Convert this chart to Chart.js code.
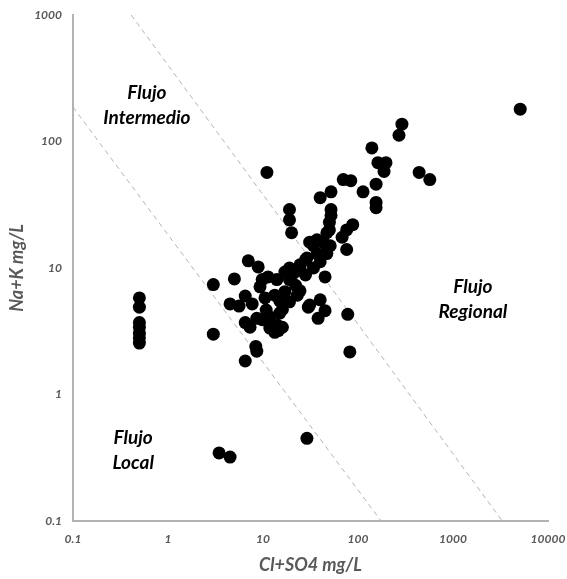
<!DOCTYPE html>
<html>
<head>
<meta charset="utf-8">
<script src="https://cdn.jsdelivr.net/npm/chart.js@4"></script>
<style>
  html, body { margin: 0; padding: 0; background: #fff; }
  #wrap { width: 567px; height: 579px; }
</style>
</head>
<body>
<div id="wrap"><canvas id="chart"></canvas></div>
<script>
// Cl+SO4 (mg/L) and Na+K (mg/L)
var clSo4 = [0.5, 0.5, 0.5, 0.5, 0.5, 0.5, 0.5,
  3.0, 3.0, 6.5, 8.4, 8.6, 3.45, 4.5, 29, 82, 78,
  5100, 290, 270, 140, 162, 197, 188, 440, 570, 70, 84, 155, 113, 155, 155,
  52, 40, 52, 52, 19, 19, 20, 50, 50, 88, 76, 68, 76, 47, 43, 34, 51, 47, 29, 37,
  24.5, 45, 18, 7, 8.9, 5, 9.8, 11.3, 9.3, 14, 17, 21, 24.5, 31,
  4.5, 5.6, 6.5, 7.7, 10.5, 10.8, 16, 19, 23, 31, 38,
  6.5, 7.3, 8.6, 9.8, 11.8, 14, 16, 14.5, 11.8, 40, 45, 30,
  28, 23, 19, 37, 47, 34, 40, 28, 22, 24.5, 19, 17, 13.3, 15, 15, 13.3, 11];
var naK = [5.8, 4.9, 3.7, 3.4, 3.05, 2.8, 2.55,
  7.4, 3.0, 1.84, 2.4, 2.2, 0.345, 0.32, 0.45, 2.17, 4.3,
  180, 137, 112, 89, 68, 68, 58, 57, 50, 50, 49, 46, 40, 33, 30,
  40, 36, 29, 26, 29, 24, 19, 23, 20, 22, 20, 17.5, 14, 19, 16, 15, 15, 13, 12, 13,
  10, 8.5, 9.1, 11.4, 10.2, 8.2, 8.1, 8.5, 7.1, 8.1, 9.3, 9.1, 10.6, 16,
  5.2, 5.0, 6.0, 5.2, 5.8, 4.65, 4.7, 5.4, 6.1, 5.1, 4.0,
  3.7, 3.4, 4.0, 3.9, 4.1, 3.55, 3.4, 3.2, 3.35, 5.6, 4.6, 4.9,
  11.6, 9.6, 10, 16.7, 14, 10, 11.2, 8.8, 7.3, 6.6, 8.1, 6.5, 6.1, 5.5, 4.4, 3.1, 57];

// dashed boundary lines (end points)
var lineLocalX = [0.1, 175];
var lineLocalY = [187, 0.1];
var lineRegionalX = [0.41, 3300];
var lineRegionalY = [1000, 0.1];

var tickValues = [0.1, 1, 10, 100, 1000, 10000];

// zone labels: text lines and anchor in data units
var zoneLabels = [
  { lines: ['Flujo', 'Intermedio'], x: 0.6, y: 194 },
  { lines: ['Flujo', 'Regional'], x: 1620, y: 5.6 },
  { lines: ['Flujo', 'Local'], x: 0.43, y: 0.36 }
];

function toPoints(xs, ys) {
  return xs.map(function (x, i) { return { x: x, y: ys[i] }; });
}

function keepDecades(scale) {
  scale.ticks = scale.ticks.filter(function (t) {
    return tickValues.some(function (v) { return Math.abs(t.value - v) / v < 1e-6; });
  });
}

var gray = '#595959';
var tickFont = { family: 'Lato', size: 12, style: 'italic', weight: 'bold' };
var titleFont = { family: 'Lato', size: 18, style: 'italic', weight: 'bold' };

var zonePlugin = {
  id: 'zones',
  afterDatasetsDraw: function (chart) {
    var c = chart.ctx;
    var xs = chart.scales.x, ys = chart.scales.y;
    c.save();
    c.fillStyle = '#000';
    c.font = 'italic bold 19px Lato';
    c.textAlign = 'center';
    c.textBaseline = 'middle';
    zoneLabels.forEach(function (z) {
      var px = xs.getPixelForValue(z.x);
      var py = ys.getPixelForValue(z.y);
      var h = 25;
      z.lines.forEach(function (t, i) {
        c.fillText(t, px, py + (i - (z.lines.length - 1) / 2) * h);
      });
    });
    c.restore();
  }
};

var ctx = document.getElementById('chart').getContext('2d');
var chart = new Chart(ctx, {
  type: 'scatter',
  data: {
    datasets: [{
      label: 'Muestras',
      data: toPoints(clSo4, naK),
      backgroundColor: '#000',
      borderWidth: 0,
      pointRadius: 6.5,
      pointHoverRadius: 6.5
    }, {
      label: 'Local',
      data: toPoints(lineLocalX, lineLocalY),
      showLine: true,
      borderColor: '#b4b4b4',
      borderWidth: 1,
      borderDash: [5, 4],
      pointRadius: 0
    }, {
      label: 'Regional',
      data: toPoints(lineRegionalX, lineRegionalY),
      showLine: true,
      borderColor: '#b4b4b4',
      borderWidth: 1,
      borderDash: [5, 4],
      pointRadius: 0
    }]
  },
  options: {
    responsive: true,
    maintainAspectRatio: false,
    animation: false,
    layout: { padding: { left: 0, right: 19, top: 15, bottom: 0 } },
    plugins: {
      legend: { display: false },
      tooltip: { enabled: false }
    },
    scales: {
      x: {
        type: 'logarithmic',
        min: 0.1,
        max: 10000,
        afterBuildTicks: keepDecades,
        afterFit: function (s) { s.height = 58; s.paddingLeft = 0; s.paddingRight = 0; },
        grid: { display: false, drawTicks: false },
        border: { display: true, color: '#b3b3b3', width: 2 },
        ticks: {
          color: gray,
          font: tickFont,
          padding: 11,
          autoSkip: false,
          maxRotation: 0,
          callback: function (v) { return String(v); }
        },
        title: {
          display: true,
          text: 'Cl+SO4 mg/L',
          color: gray,
          font: titleFont,
          padding: { top: 0, bottom: 3 }
        }
      },
      y: {
        type: 'logarithmic',
        min: 0.1,
        max: 1000,
        afterBuildTicks: keepDecades,
        afterFit: function (s) { s.width = 73; s.paddingTop = 0; s.paddingBottom = 0; },
        grid: { display: false, drawTicks: false },
        border: { display: true, color: '#b3b3b3', width: 2 },
        ticks: {
          color: gray,
          font: tickFont,
          padding: 11,
          autoSkip: false,
          callback: function (v) { return String(v); }
        },
        title: {
          display: true,
          text: 'Na+K mg/L',
          color: gray,
          font: titleFont,
          padding: { top: 6, bottom: 0 }
        }
      }
    }
  },
  plugins: [zonePlugin]
});
</script>
</body>
</html>
